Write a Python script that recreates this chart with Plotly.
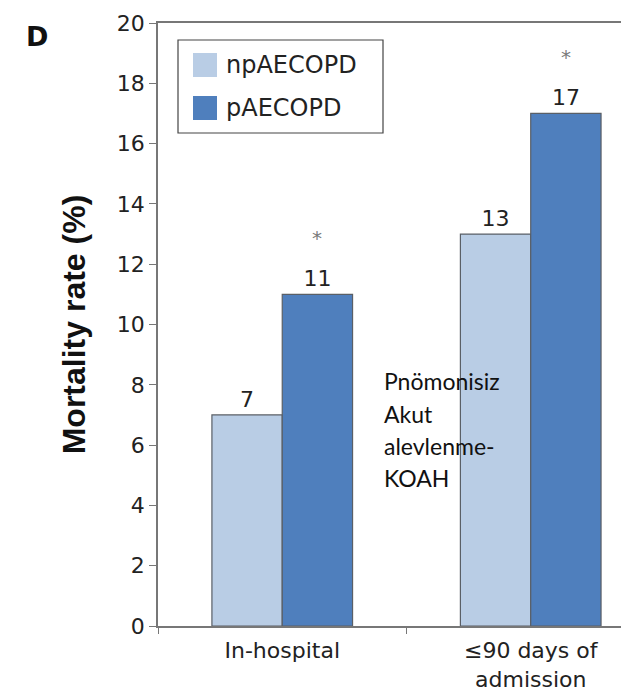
import plotly.graph_objects as go

categories = ["In-hospital", "≤90 days of<br>admission"]
series_names = ["npAECOPD", "pAECOPD"]
series_colors = ["#b9cde5", "#4f7fbd"]
np_values = [7, 13]
p_values = [11, 17]
p_significant = [True, True]
y_ticks = [0, 2, 4, 6, 8, 10, 12, 14, 16, 18, 20]
note_lines = ["Pnömonisiz", "Akut", "alevlenme-", "KOAH"]

outline = "#5a5f66"
txt = "#222222"
font = "DejaVu Sans, sans-serif"

# plot area geometry (pixels)
L, T, W, H = 150, 15, 479, 603
def px(X):
    return (X - L) / W
def py(Y):
    return 1 - (Y - T) / H

fig = go.Figure()
for name, vals, col in zip(series_names, [np_values, p_values], series_colors):
    fig.add_trace(go.Bar(
        x=categories, y=vals, name=name, showlegend=False,
        marker=dict(color=col, line=dict(color=outline, width=1.2)),
        text=[str(v) for v in vals], textposition="outside",
        textfont=dict(size=22, color=txt, family=font),
        cliponaxis=False,
    ))

bar_px = 70.5
for cat, v, sig in zip(categories, p_values, p_significant):
    if sig:
        fig.add_annotation(x=cat, y=v, xref="x", yref="y", text="*", showarrow=False,
                           xshift=bar_px / 2, yshift=56,
                           font=dict(size=20, color="#7a7a7a", family=font))

for k, line in enumerate(note_lines):
    fig.add_annotation(x=px(374), y=py(373 + 32.5 * k),
                       xref="paper", yref="paper", xanchor="left", yanchor="middle",
                       text=line, showarrow=False,
                       font=dict(size=23, color="#111111", family="Lato, Carlito, sans-serif"))

fig.add_annotation(x=px(29), y=py(28), xref="paper", yref="paper", text="<b>D</b>",
                   showarrow=False, xanchor="center", yanchor="middle",
                   font=dict(size=27, color="#111111", family=font))

# legend box (manual, to match the large swatches)
shapes = [dict(type="rect", xref="paper", yref="paper", x0=px(170), x1=px(375),
               y0=py(125), y1=py(32), line=dict(color="#444444", width=1.2),
               fillcolor="white", layer="above")]
for i, (name, col) in enumerate(zip(series_names, series_colors)):
    yc = 57 + 43 * i
    shapes.append(dict(type="rect", xref="paper", yref="paper", x0=px(185), x1=px(209),
                       y0=py(yc + 12), y1=py(yc - 12), line=dict(width=0),
                       fillcolor=col, layer="above"))
    fig.add_annotation(x=px(216), y=py(yc), xref="paper", yref="paper", xanchor="left",
                       yanchor="middle", text=name, showarrow=False,
                       font=dict(size=24, color=txt, family=font))

fig.update_layout(
    width=629, height=694,
    margin=dict(l=L, r=0, t=T, b=694 - T - H, autoexpand=False),
    paper_bgcolor="white", plot_bgcolor="white",
    barmode="group", bargap=0.434, bargroupgap=0,
    font=dict(family=font, color=txt, size=22),
    showlegend=False,
    shapes=shapes,
    xaxis=dict(range=[-0.5, 1.5 - 18 / 249], showline=True, linecolor="#777777", linewidth=1.5,
               mirror=True, ticks="outside", tickson="boundaries", ticklen=6, tickcolor="#777777",
               tickfont=dict(size=22, color=txt, family=font), fixedrange=True, automargin=False,
               ticklabelstandoff=4),
    yaxis=dict(range=[0, 20], tickvals=y_ticks, showline=True, linecolor="#777777", linewidth=1.5,
               ticks="outside", ticklen=7, tickcolor="#777777", showgrid=False, zeroline=False,
               tickfont=dict(size=22, color=txt, family=font), automargin=False,
               title=dict(text="<b>Mortality rate (%)</b>",
                          font=dict(size=32, color="#111111", family="Liberation Sans, Arial, sans-serif"),
                          standoff=22)),
)

fig.write_html("out.html")
